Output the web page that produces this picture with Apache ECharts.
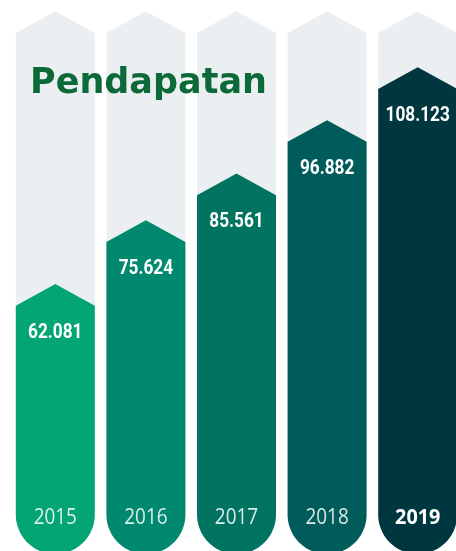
<!DOCTYPE html>
<html>
<head>
<meta charset="utf-8">
<style>
  html, body { margin: 0; padding: 0; background: #ffffff; }
  #chart { width: 456px; height: 551px; }
</style>
<script src="https://cdn.jsdelivr.net/npm/echarts@6/dist/echarts.min.js"></script>
</head>
<body>
<div id="chart"></div>
<script>
// Revenue (Pendapatan) per year
const years = ['2015', '2016', '2017', '2018', '2019'];
const revenue = [62.081, 75.624, 85.561, 96.882, 108.123];
const valueLabels = ['62.081', '75.624', '85.561', '96.882', '108.123'];
const highlightYear = '2019';

const barColors = ['#03A572', '#00896E', '#007461', '#005C5A', '#00363D'];
const trackColor = '#ECEFF2';
const axisMin = 10;
const axisMax = 120;

const chart = echarts.init(document.getElementById('chart'), null, { renderer: 'canvas' });

// Arrow-topped capsule: pointed top, straight sides, round bottom
function capsulePoints(cx, halfW, shoulderY, peakH, bottomY) {
  const pts = [[cx - halfW, shoulderY], [cx, shoulderY - peakH], [cx + halfW, shoulderY]];
  const arcCy = bottomY - halfW + 3;
  pts.push([cx + halfW, arcCy]);
  const n = 40;
  for (let k = 1; k < n; k++) {
    const a = Math.PI * k / n;
    pts.push([cx + halfW * Math.cos(a), arcCy + halfW * Math.sin(a)]);
  }
  pts.push([cx - halfW, arcCy]);
  return pts;
}

function renderItem(params, api) {
  const i = api.value(0);
  const v = api.value(1);
  const top = api.coord([i, v]);
  const trackTop = api.coord([i, axisMax]);
  const base = api.coord([i, axisMin]);
  const halfW = api.size([1, 0])[0] * 0.436;
  const peakH = halfW * 0.55;
  const cx = top[0];
  const isLast = years[i] === highlightYear;
  return {
    type: 'group',
    children: [
      {
        type: 'polygon',
        shape: { points: capsulePoints(cx, halfW, trackTop[1], peakH, base[1]) },
        style: { fill: trackColor },
        z2: 0
      },
      {
        type: 'polygon',
        shape: { points: capsulePoints(cx, halfW, top[1], peakH, base[1]) },
        style: { fill: barColors[i] },
        z2: 2
      },
      {
        type: 'text',
        x: cx,
        y: top[1] + 27,
        scaleX: 0.82,
        style: {
          text: valueLabels[i],
          fill: '#ffffff',
          font: 'bold 21px Roboto, sans-serif',
          align: 'center',
          verticalAlign: 'middle'
        },
        z2: 5
      },
      {
        type: 'text',
        x: cx,
        y: base[1] - 33,
        scaleX: isLast ? 0.9 : 0.86,
        style: {
          text: years[i],
          fill: isLast ? '#ffffff' : 'rgba(255,255,255,0.85)',
          font: (isLast ? 'bold ' : '') + '22px "Open Sans", sans-serif',
          align: 'center',
          verticalAlign: 'middle'
        },
        z2: 5
      }
    ]
  };
}

chart.setOption({
  animation: false,
  backgroundColor: '#ffffff',
  grid: { left: 10, right: -7, top: 33, bottom: 0, outerBoundsMode: 'none', containLabel: false },
  xAxis: {
    type: 'category',
    data: years,
    show: false
  },
  yAxis: {
    type: 'value',
    min: axisMin,
    max: axisMax,
    show: false
  },
  series: [{
    type: 'custom',
    renderItem: renderItem,
    data: revenue.map((v, i) => [i, v]),
    z: 1
  }],
  graphic: [{
    type: 'text',
    left: 30,
    top: 66,
    z: 10,
    style: {
      text: 'Pendapatan',
      fill: '#0C6A38',
      font: 'bold 35px "DejaVu Sans", sans-serif'
    }
  }]
});
</script>
</body>
</html>
